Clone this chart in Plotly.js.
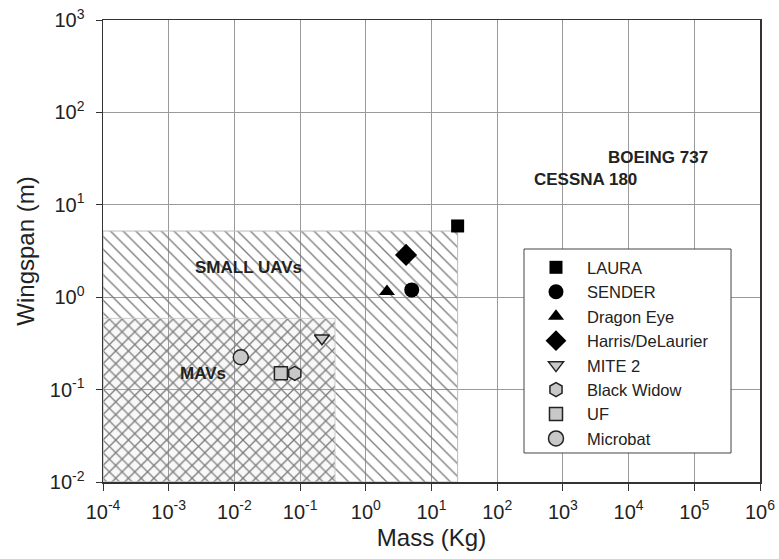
<!DOCTYPE html>
<html>
<head>
<meta charset="utf-8">
<script src="https://cdn.plot.ly/plotly-3.0.1.min.js"></script>
<style>
html,body{margin:0;padding:0;background:#fff}
#chart{width:779px;height:559px}
</style>
</head>
<body>
<div id="chart"></div>
<script>
// Aircraft data (mass in kg, wingspan in m)
const names    = ["LAURA", "SENDER", "Dragon Eye", "Harris/DeLaurier", "MITE 2", "Black Widow", "UF", "Microbat"];
const massKg   = [25, 5.0, 2.1, 4.1, 0.215, 0.083, 0.051, 0.0125];
const spanM    = [5.9, 1.2, 1.15, 2.87, 0.36, 0.15, 0.15, 0.224];
const symbols  = ["square", "circle", "triangle-up", "diamond", "triangle-down", "hexagon", "square", "circle"];
const fills    = ["#000", "#000", "#000", "#000", "#c8c8c8", "#c8c8c8", "#c8c8c8", "#c8c8c8"];
const sizes    = [13, 15, 14, 17, 13, 14, 13, 15];

// Regions (mass range, span range)
const smallUavMass = [1e-4, 25];
const smallUavSpan = [1e-2, 5.2];
const mavMass      = [1e-4, 0.34];
const mavSpan      = [1e-2, 0.59];

// Text labels
const labelText = ["BOEING 737", "CESSNA 180", "SMALL UAVs", "MAVs"];
const labelMass = [2.8e4, 2.2e3, 0.0162, 0.0033];
const labelSpan = [32.9, 18.6, 2.12, 0.151];

// Axis ticks
const xTickVals = [1e-4, 1e-3, 1e-2, 1e-1, 1e0, 1e1, 1e2, 1e3, 1e4, 1e5, 1e6];
const xTickText = ["10<sup>-4</sup>", "10<sup>-3</sup>", "10<sup>-2</sup>", "10<sup>-1</sup>", "10<sup>0</sup>", "10<sup>1</sup>", "10<sup>2</sup>", "10<sup>3</sup>", "10<sup>4</sup>", "10<sup>5</sup>", "10<sup>6</sup>"];
const yTickVals = [1e-2, 1e-1, 1e0, 1e1, 1e2, 1e3];
const yTickText = ["10<sup>-2</sup>", "10<sup>-1</sup>", "10<sup>0</sup>", "10<sup>1</sup>", "10<sup>2</sup>", "10<sup>3</sup>"];

function box(m, s) {
  return {x: [m[0], m[1], m[1], m[0], m[0]], y: [s[0], s[0], s[1], s[1], s[0]]};
}

const FF = "Liberation Sans, Arial, sans-serif";
const traces = [];
const b1 = box(smallUavMass, smallUavSpan);
traces.push({
  x: b1.x, y: b1.y, type: "scatter", mode: "lines", fill: "toself",
  line: {color: "#bbb", width: 1}, fillcolor: "rgba(0,0,0,0)",
  fillpattern: {shape: "\\", size: 9, solidity: 0.15, fgcolor: "#7a7a7a", bgcolor: "rgba(255,255,255,0)"},
  showlegend: false, hoverinfo: "skip"
});
const b2 = box(mavMass, mavSpan);
traces.push({
  x: b2.x, y: b2.y, type: "scatter", mode: "lines", fill: "toself",
  line: {color: "#ccc", width: 1}, fillcolor: "rgba(0,0,0,0)",
  fillpattern: {shape: "/", size: 9, solidity: 0.15, fgcolor: "#7a7a7a", bgcolor: "rgba(200,200,200,0.12)"},
  showlegend: false, hoverinfo: "skip"
});

for (let i = 0; i < names.length; i++) {
  traces.push({
    x: [massKg[i]], y: [spanM[i]], name: names[i], type: "scatter", mode: "markers",
    marker: {symbol: symbols[i], size: sizes[i], color: fills[i], line: {color: "#222", width: i >= 4 ? 1.5 : 0}}
  });
}

const annotations = labelText.map((t, i) => ({
  x: Math.log10(labelMass[i]), y: Math.log10(labelSpan[i]), xref: "x", yref: "y",
  text: t, showarrow: false, font: {family: FF, size: 17, color: "#222", weight: "bold"}
}));

const layout = {
  width: 779, height: 559,
  margin: {l: 103, r: 19, t: 20, b: 77},
  paper_bgcolor: "#fff", plot_bgcolor: "#fff",
  font: {family: FF, color: "#222"},
  showlegend: true,
  legend: {
    x: 0.6423, y: 0.502, xanchor: "left", yanchor: "top",
    bgcolor: "rgba(0,0,0,0)", borderwidth: 0,
    font: {family: FF, size: 16.5, color: "#222"},
    itemwidth: 52,
    tracegroupgap: 0
  },
  shapes: [{
    type: "rect", xref: "paper", yref: "paper",
    x0: 0.6408, x1: 0.9559, y0: 0.0628, y1: 0.5043,
    fillcolor: "#fff", line: {color: "#444", width: 1}, layer: "above"
  }],
  xaxis: {
    type: "log", range: [-4, 6],
    tickvals: xTickVals, ticktext: xTickText,
    tickfont: {size: 20, color: "#222"},
    ticks: "outside", ticklen: 7, tickcolor: "#333",
    ticklabelstandoff: 4,
    showgrid: true, gridcolor: "#9a9a9a", gridwidth: 1,
    showline: true, linecolor: "#333", linewidth: 1.5, mirror: true,
    zeroline: false,
    title: {text: "Mass (Kg)", font: {size: 24, color: "#222"}, standoff: 7}
  },
  yaxis: {
    type: "log", range: [-2, 3],
    tickvals: yTickVals, ticktext: yTickText,
    tickfont: {size: 20, color: "#222"},
    ticks: "outside", ticklen: 6, tickcolor: "#333",
    ticklabelstandoff: 7,
    showgrid: true, gridcolor: "#9a9a9a", gridwidth: 1,
    showline: true, linecolor: "#333", linewidth: 1.5, mirror: true,
    zeroline: false,
    title: {text: "Wingspan (m)", font: {size: 24, color: "#222"}, standoff: 8}
  },
  annotations: annotations
};

Plotly.newPlot("chart", traces, layout, {displayModeBar: false, staticPlot: true});
</script>
</body>
</html>
